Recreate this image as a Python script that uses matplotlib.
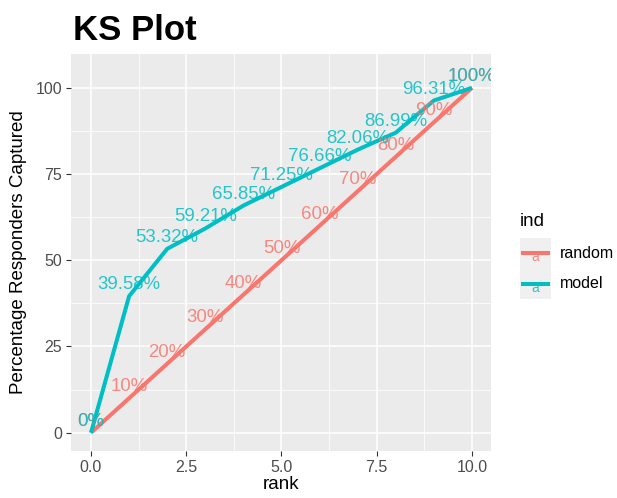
import matplotlib
matplotlib.use('Agg')
import matplotlib.pyplot as plt
from matplotlib.patches import Rectangle
from matplotlib.lines import Line2D

plt.rcParams['font.family'] = ['Liberation Sans', 'DejaVu Sans']

rank = [0, 1, 2, 3, 4, 5, 6, 7, 8, 9, 10]
random_pct = [0, 10, 20, 30, 40, 50, 60, 70, 80, 90, 100]
model_pct = [0, 39.58, 53.32, 59.21, 65.85, 71.25, 76.66, 82.06, 86.99, 96.31, 100]
random_labels = ["0%", "10%", "20%", "30%", "40%", "50%", "60%", "70%", "80%", "90%", "100%"]
model_labels = ["0%", "39.58%", "53.32%", "59.21%", "65.85%", "71.25%", "76.66%",
                "82.06%", "86.99%", "96.31%", "100%"]
series_names = ["random", "model"]
x_ticks = [0.0, 2.5, 5.0, 7.5, 10.0]
x_ticklabels = ["0.0", "2.5", "5.0", "7.5", "10.0"]
y_ticks = [0, 25, 50, 75, 100]
y_ticklabels = ["0", "25", "50", "75", "100"]

RED = '#F8766D'
CYAN = '#00BFC4'
W, H = 617, 498

fig = plt.figure(figsize=(W / 100, H / 100), dpi=100)
ax = fig.add_axes([71 / W, 1 - 451 / H, (491 - 71) / W, (451 - 54) / H])
ax.set_facecolor('#EBEBEB')
for s in ax.spines.values():
    s.set_visible(False)

ax.set_xlim(-0.525, 10.5)
ax.set_ylim(-5.3, 109.8)
ax.set_xticks(x_ticks)
ax.set_xticklabels(x_ticklabels)
ax.set_yticks(y_ticks)
ax.set_yticklabels(y_ticklabels)
ax.set_xticks([1.25, 3.75, 6.25, 8.75], minor=True)
ax.set_yticks([12.5, 37.5, 62.5, 87.5], minor=True)
ax.grid(which='major', color='white', lw=1.1)
ax.grid(which='minor', color='white', lw=0.55)
ax.set_axisbelow(True)
ax.tick_params(which='major', length=3.5, width=0.8, color='#333333',
               labelsize=11.5, labelcolor='#4D4D4D', pad=3)
ax.tick_params(which='minor', length=0)

ax.plot(rank, random_pct, color=RED, lw=2.9, solid_capstyle='butt', zorder=3)
ax.plot(rank, model_pct, color=CYAN, lw=2.9, solid_capstyle='butt', zorder=3)

for x, y, lab in zip(rank, random_pct, random_labels):
    ax.annotate(lab, (x, y), xytext=(0, 8.3), textcoords='offset points',
                ha='center', va='center', fontsize=13.4, color=RED, alpha=0.85,
                zorder=4, clip_on=True)
for x, y, lab in zip(rank, model_pct, model_labels):
    ax.annotate(lab, (x, y), xytext=(0, 8.3), textcoords='offset points',
                ha='center', va='center', fontsize=13.4, color=CYAN, alpha=0.85,
                zorder=5, clip_on=True)

ax.set_xlabel('rank', fontsize=13.5, color='black', labelpad=1)
ax.set_ylabel('Percentage Responders Captured', fontsize=13.5, color='black', labelpad=6)

fig.text(73 / W, 1 - 40 / H, 'KS Plot', fontsize=25, fontweight='bold',
         ha='left', va='baseline')

# legend
fig.text(520 / W, 1 - 222 / H, 'ind', fontsize=13.5, ha='left', va='center')
fig.patches.append(Rectangle((520 / W, 1 - 299 / H), 31 / W, 61 / H,
                             transform=fig.transFigure, facecolor='#F0F0F0',
                             edgecolor='none'))
for name, col, yc in zip(series_names, [RED, CYAN], [253, 284]):
    fig.lines.append(Line2D([523 / W, 548 / W], [1 - yc / H, 1 - yc / H],
                            transform=fig.transFigure, color=col, lw=2.9))
    fig.text(535.5 / W, 1 - (yc + 4) / H, 'a', fontsize=10, color=col,
             ha='center', va='center', alpha=0.85)
    fig.text(560 / W, 1 - yc / H, name, fontsize=11.5, ha='left', va='center')

fig.savefig('out.png', dpi=100)
